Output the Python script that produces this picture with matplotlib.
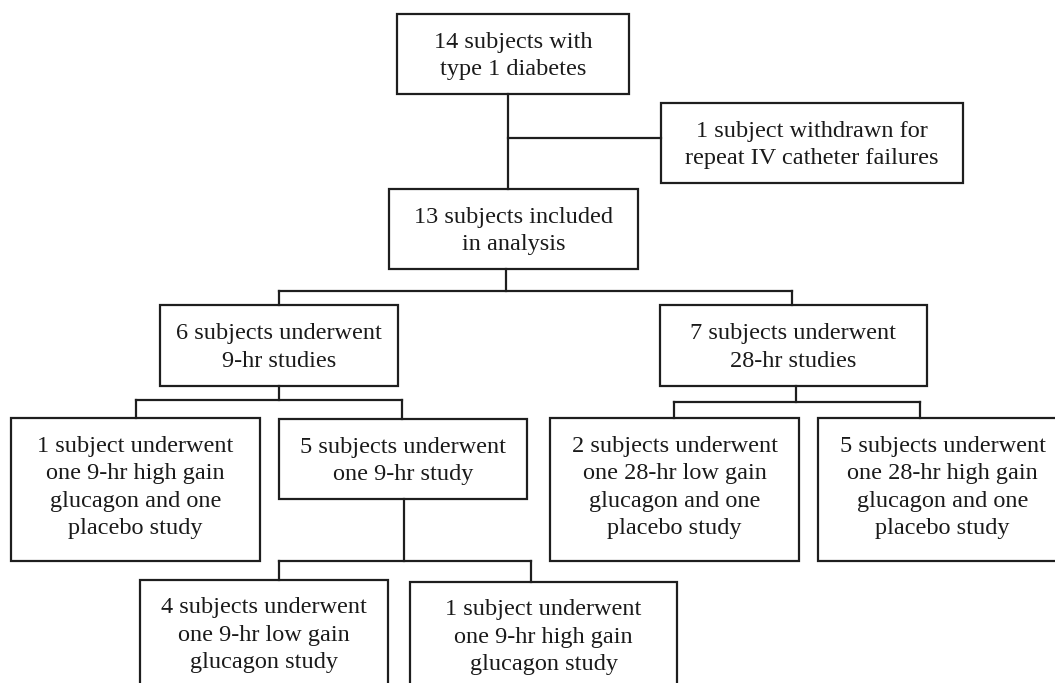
import matplotlib
matplotlib.use("Agg")
import matplotlib.pyplot as plt
from matplotlib.patches import Rectangle

# box texts of the flow chart
labels = [
    "14 subjects with\ntype 1 diabetes",
    "1 subject withdrawn for\nrepeat IV catheter failures",
    "13 subjects included\nin analysis",
    "6 subjects underwent\n9-hr studies",
    "7 subjects underwent\n28-hr studies",
    "1 subject underwent\none 9-hr high gain\nglucagon and one\nplacebo study",
    "5 subjects underwent\none 9-hr study",
    "2 subjects underwent\none 28-hr low gain\nglucagon and one\nplacebo study",
    "5 subjects underwent\none 28-hr high gain\nglucagon and one\nplacebo study",
    "4 subjects underwent\none 9-hr low gain\nglucagon study",
    "1 subject underwent\none 9-hr high gain\nglucagon study",
]

# layout: box corners in pixels (left, top, right, bottom)
box_pos = [
    (397, 14, 629, 94),
    (661, 103, 963, 183),
    (389, 189, 638, 269),
    (160, 305, 398, 386),
    (660, 305, 927, 386),
    (11, 418, 260, 561),
    (279, 419, 527, 499),
    (550, 418, 799, 561),
    (818, 418, 1067, 561),
    (140, 580, 388, 694),
    (410, 582, 677, 696),
]

# connector segments (x0, y0, x1, y1)
links = [
    (508, 94, 508, 189), (508, 138, 661, 138),
    (506, 269, 506, 291), (279, 291, 792, 291),
    (279, 291, 279, 305), (792, 291, 792, 305),
    (279, 386, 279, 400), (136, 400, 402, 400),
    (136, 400, 136, 418), (402, 400, 402, 419),
    (796, 386, 796, 402), (674, 402, 920, 402),
    (674, 402, 674, 418), (920, 402, 920, 418),
    (404, 499, 404, 561), (279, 561, 531, 561),
    (279, 561, 279, 580), (531, 561, 531, 582),
]

fig = plt.figure(figsize=(10.55, 6.83), dpi=100)
ax = fig.add_axes([0, 0, 1, 1])
ax.set_xlim(0, 1055)
ax.set_ylim(683, 0)
ax.axis("off")

lc = "#1e1e1e"
for (x0, y0, x1, y1) in links:
    ax.plot([x0, x1], [y0, y1], color=lc, lw=1.6, solid_capstyle="projecting")

for txt, (x0, y0, x1, y1) in zip(labels, box_pos):
    ax.add_patch(Rectangle((x0, y0), x1 - x0, y1 - y0, fill=True, facecolor="white",
                           edgecolor=lc, lw=1.6))
    shift = 2 if txt.count("\n") == 1 else -2
    ax.text((x0 + x1) / 2, (y0 + y1) / 2 + shift, txt, ha="center", va="center",
            multialignment="center", fontsize=17.5, family="Liberation Serif",
            color="#1a1a1a", linespacing=1.4)

fig.savefig("out.png", dpi=100)
